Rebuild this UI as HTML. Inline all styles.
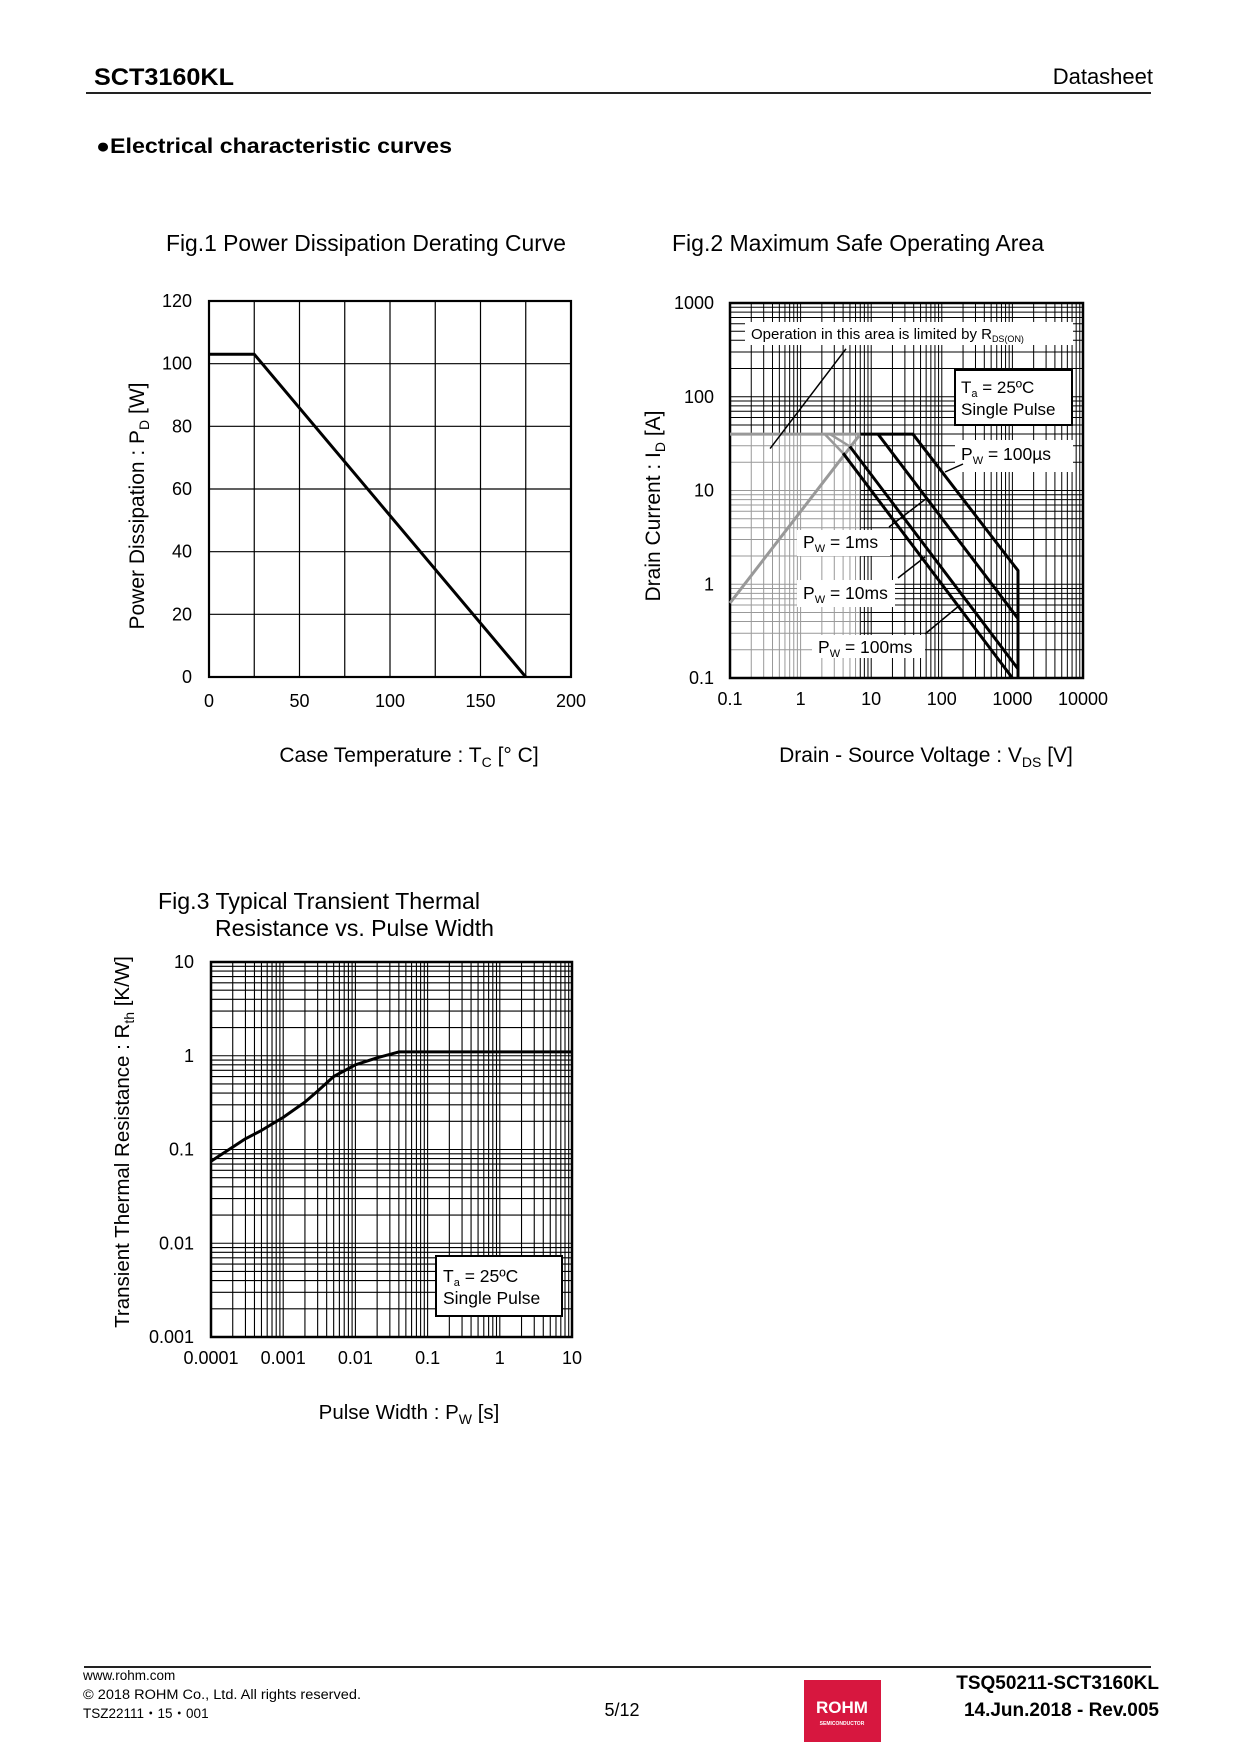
<!DOCTYPE html>
<html><head><meta charset="utf-8"><style>
body{margin:0;background:#fff}
svg{display:block;font-family:"Liberation Sans",Arial,sans-serif}
</style></head><body>
<svg id="pg" width="1240" height="1754" viewBox="0 0 1240 1754" xmlns="http://www.w3.org/2000/svg">
<g>
<text x="94" y="85" font-size="24" font-weight="bold" textLength="140" lengthAdjust="spacingAndGlyphs">SCT3160KL</text>
<text x="1153" y="84" font-size="22" text-anchor="end">Datasheet</text>
<rect x="86" y="92" width="1065" height="2" fill="#222"/>
<text x="96" y="153" font-size="21" font-weight="bold" textLength="356" lengthAdjust="spacingAndGlyphs">●Electrical characteristic curves</text>
</g>
<g id="f1"></g>
<g id="f2"></g>
<g id="f3"></g>
<g>
<rect x="84" y="1666" width="1067" height="2" fill="#222"/>
<text x="83" y="1680" font-size="13.5">www.rohm.com</text>
<text x="83" y="1699" font-size="13.5" textLength="278" lengthAdjust="spacingAndGlyphs">© 2018 ROHM Co., Ltd. All rights reserved.</text>
<text x="83" y="1718" font-size="13.5">TSZ22111・15・001</text>
<text x="622" y="1716" font-size="18" text-anchor="middle">5/12</text>
<rect x="804" y="1680" width="77" height="62" fill="#d7173f"/>
<text x="842" y="1713" font-size="17" font-weight="bold" fill="#fff" text-anchor="middle">ROHM</text>
<text x="842" y="1725" font-size="5" font-weight="bold" fill="#fff" text-anchor="middle">SEMICONDUCTOR</text>
<text x="1159" y="1689" font-size="19" font-weight="bold" text-anchor="end">TSQ50211-SCT3160KL</text>
<text x="1159" y="1716" font-size="19" font-weight="bold" text-anchor="end">14.Jun.2018 - Rev.005</text>
</g>
</svg>
<script>
// Fig1 data
const f1Temp=[0,25,175];
const f1Power=[103,103,0];
const f1XTicks=[0,50,100,150,200];
const f1YTicks=[0,20,40,60,80,100,120];
// Fig2 data
const f2XTicks=["0.1","1","10","100","1000","10000"];
const f2YTicks=["0.1","1","10","100","1000"];
const f2RdsV=[0.1,7];
const f2RdsI=[0.63,40];
const f2RdsThinV=[0.37,4.4];
const f2RdsThinI=[28,325];
const f2LimitV=[0.1,7];
const f2LimitI=[40,40];
const f2Pw100usV=[7,39,1200,1200];
const f2Pw100usI=[40,40,1.4,0.1];
const f2Pw1msV=[12.5,1200,1200];
const f2Pw1msI=[40,0.43,0.1];
const f2Pw10msV=[5,1200,1200];
const f2Pw10msI=[29.5,0.125,0.1];
const f2Pw100msV=[4,1000];
const f2Pw100msI=[25,0.1];
const f2Gray10msV=[2.6,5];
const f2Gray10msI=[40,29.5];
const f2Gray100msV=[2.2,4];
const f2Gray100msI=[40,25];
// Fig3 data
const f3Pw=[0.0001,0.0003,0.0005,0.001,0.002,0.003,0.005,0.01,0.02,0.04,0.1,1,10];
const f3Rth=[0.075,0.13,0.16,0.22,0.32,0.42,0.6,0.8,0.95,1.1,1.1,1.1,1.1];
const f3XTicks=["0.0001","0.001","0.01","0.1","1","10"];
const f3YTicks=["0.001","0.01","0.1","1","10"];

const NS="http://www.w3.org/2000/svg";
function mk(parent,tag,attrs,txt){const e=document.createElementNS(NS,tag);for(const k in attrs)e.setAttribute(k,attrs[k]);if(txt!==undefined)e.textContent=txt;parent.appendChild(e);return e;}
function line(p,x1,y1,x2,y2,w,c){return mk(p,'line',{x1:x1,y1:y1,x2:x2,y2:y2,stroke:c||'#000','stroke-width':w||1});}
function poly(p,xs,ys,sx,sy,w,c){let d='';for(let i=0;i<xs.length;i++)d+=(i?'L':'M')+sx(xs[i]).toFixed(1)+' '+sy(ys[i]).toFixed(1);return mk(p,'path',{d:d,fill:'none',stroke:c||'#000','stroke-width':w,'stroke-linejoin':'round'});}

// ---------- Fig1 ----------
(function(){
const g=document.getElementById('f1');
const L=209,R=571,T=301,B=677;
const sx=v=>L+(v-0)/200*(R-L), sy=v=>B-(v/120)*(B-T);
let t=mk(g,'text',{x:366,y:251,'font-size':23,'text-anchor':'middle',textLength:400,lengthAdjust:'spacingAndGlyphs'},'Fig.1 Power Dissipation Derating Curve');

for(let v=25;v<200;v+=25){const l=line(g,sx(v),T,sx(v),B,1.2);}
for(let v=20;v<120;v+=20){const l=line(g,L,sy(v),R,sy(v),1.2);}
const fr=mk(g,'rect',{x:L,y:T,width:R-L,height:B-T,fill:'none',stroke:'#000','stroke-width':2.2});

f1XTicks.forEach(v=>{const e=mk(g,'text',{x:sx(v),y:707,'font-size':18,'text-anchor':'middle'},String(v));});
f1YTicks.forEach(v=>{const e=mk(g,'text',{x:192,y:sy(v)+6,'font-size':18,'text-anchor':'end'},String(v));});
const c=poly(g,f1Temp,f1Power,sx,sy,3);
t=mk(g,'text',{x:409,y:762,'font-size':21,'text-anchor':'middle'});
t.innerHTML='Case Temperature : T<tspan font-size="14" dy="5">C</tspan><tspan dy="-5"> [°   C]</tspan>';

t=mk(g,'text',{x:0,y:0,'font-size':21,'text-anchor':'middle',transform:'translate(144,506) rotate(-90)'});
t.innerHTML='Power Dissipation  : P<tspan font-size="14" dy="5">D</tspan><tspan dy="-5"> [W]</tspan>';

})();

// ---------- Fig2 ----------
(function(){
const g=document.getElementById('f2');
const L=730,R=1083,T=303,B=678;
const lx=v=>L+(Math.log10(v)+1)/5*(R-L), ly=v=>B-(Math.log10(v)+1)/4*(B-T);
let t=mk(g,'text',{x:672,y:251,'font-size':23,textLength:372,lengthAdjust:'spacingAndGlyphs'},'Fig.2 Maximum Safe Operating Area');

const gx=lx(7), gy=ly(40), gray='#999';
for(let d=-1;d<4;d++)for(let k=1;k<10;k++){const v=k*Math.pow(10,d);if(d===-1&&k===1)continue;const x=lx(v);
 if(v<7){let a=line(g,x,T,x,gy,1);
  a=line(g,x,gy,x,B,1,gray);}
 else{const a=line(g,x,T,x,B,1);}}
for(let d=-1;d<3;d++)for(let k=1;k<10;k++){const v=k*Math.pow(10,d);if(d===-1&&k===1)continue;const y=ly(v);
 if(v<40){let a=line(g,L,y,gx,y,1,gray);
  a=line(g,gx,y,R,y,1);}
 else{const a=line(g,L,y,R,y,1);}}
[[745,322,328,23,'fig2-rds-label-bg'],[955,440,118,32,'fig2-100us-label-bg'],[797,530,93,26,'fig2-1ms-label-bg'],[797,580,98,27,'fig2-10ms-label-bg'],[812,635,113,23,'fig2-100ms-label-bg']].forEach(b=>{const r=mk(g,'rect',{x:b[0],y:b[1],width:b[2],height:b[3],fill:'#fff'});});
let fr=mk(g,'rect',{x:L,y:T,width:R-L,height:B-T,fill:'none',stroke:'#000','stroke-width':2.5});

let p;
p=poly(g,f2LimitV,f2LimitI,lx,ly,3,gray);
p=poly(g,f2RdsV,f2RdsI,lx,ly,3,gray);
p=poly(g,f2Gray10msV,f2Gray10msI,lx,ly,2.5,gray);
p=poly(g,f2Gray100msV,f2Gray100msI,lx,ly,2.5,gray);
p=poly(g,f2RdsThinV,f2RdsThinI,lx,ly,1.5);
p=poly(g,f2Pw100usV,f2Pw100usI,lx,ly,3);
p=poly(g,f2Pw1msV,f2Pw1msI,lx,ly,3);
p=poly(g,f2Pw10msV,f2Pw10msI,lx,ly,3);
p=poly(g,f2Pw100msV,f2Pw100msI,lx,ly,3);
[[945,472,963,464],[889,527,927,498],[898,578,925,557],[925,634,960,605]].forEach(a=>{const l=line(g,a[0],a[1],a[2],a[3],1.5);});
const bx=mk(g,'rect',{x:955,y:370,width:117,height:55,fill:'#fff',stroke:'#000','stroke-width':2});

t=mk(g,'text',{x:961,y:393,'font-size':17});t.innerHTML='T<tspan font-size="11" dy="4">a</tspan><tspan dy="-4"> = 25ºC</tspan>';
t=mk(g,'text',{x:961,y:415,'font-size':17},'Single Pulse');
t=mk(g,'text',{x:751,y:339,'font-size':15});t.innerHTML='Operation in this area is limited by R<tspan font-size="9" dy="3">DS(ON)</tspan>';
[[961,460,'100µs','fig2-label-100us'],[803,548,'1ms','fig2-label-1ms'],[803,599,'10ms','fig2-label-10ms'],[818,653,'100ms','fig2-label-100ms']].forEach(a=>{const e=mk(g,'text',{x:a[0],y:a[1],'font-size':17.5});e.innerHTML='P<tspan font-size="11" dy="4">W</tspan><tspan dy="-4"> = '+a[2]+'</tspan>';});
f2XTicks.forEach(s=>{const e=mk(g,'text',{x:lx(+s),y:705,'font-size':18,'text-anchor':'middle'},s);});
f2YTicks.forEach(s=>{const e=mk(g,'text',{x:714,y:ly(+s)+6,'font-size':18,'text-anchor':'end'},s);});
t=mk(g,'text',{x:926,y:762,'font-size':21,'text-anchor':'middle'});t.innerHTML='Drain - Source Voltage : V<tspan font-size="14" dy="5">DS</tspan><tspan dy="-5"> [V]</tspan>';
t=mk(g,'text',{x:0,y:0,'font-size':21,'text-anchor':'middle',transform:'translate(660,506) rotate(-90)'});t.innerHTML='Drain Current : I<tspan font-size="14" dy="5">D</tspan><tspan dy="-5"> [A]</tspan>';
})();

// ---------- Fig3 ----------
(function(){
const g=document.getElementById('f3');
const L=211,R=572,T=962,B=1337;
const lx=v=>L+(Math.log10(v)+4)/5*(R-L), ly=v=>B-(Math.log10(v)+3)/4*(B-T);
let t=mk(g,'text',{x:158,y:909,'font-size':23,textLength:322,lengthAdjust:'spacingAndGlyphs'},'Fig.3 Typical Transient Thermal');
t=mk(g,'text',{x:215,y:936,'font-size':23,textLength:279,lengthAdjust:'spacingAndGlyphs'},'Resistance vs. Pulse Width');
for(let d=-4;d<1;d++)for(let k=1;k<10;k++){if(d===-4&&k===1)continue;const x=lx(k*Math.pow(10,d));const a=line(g,x,T,x,B,1.1);}
for(let d=-3;d<1;d++)for(let k=1;k<10;k++){if(d===-3&&k===1)continue;const y=ly(k*Math.pow(10,d));const a=line(g,L,y,R,y,1.1);}
const fr=mk(g,'rect',{x:L,y:T,width:R-L,height:B-T,fill:'none',stroke:'#000','stroke-width':2.5});
const c=poly(g,f3Pw,f3Rth,lx,ly,3);
const bx=mk(g,'rect',{x:436,y:1256,width:126,height:60,fill:'#fff',stroke:'#000','stroke-width':2});
t=mk(g,'text',{x:443,y:1282,'font-size':17.5});t.innerHTML='T<tspan font-size="11" dy="4">a</tspan><tspan dy="-4"> = 25ºC</tspan>';
t=mk(g,'text',{x:443,y:1304,'font-size':17.5},'Single Pulse');
f3XTicks.forEach(s=>{const e=mk(g,'text',{x:lx(+s),y:1364,'font-size':18,'text-anchor':'middle'},s);});
f3YTicks.forEach(s=>{const e=mk(g,'text',{x:194,y:ly(+s)+6,'font-size':18,'text-anchor':'end'},s);});
t=mk(g,'text',{x:409,y:1419,'font-size':20.5,'text-anchor':'middle'});t.innerHTML='Pulse Width : P<tspan font-size="14" dy="5">W</tspan><tspan dy="-5"> [s]</tspan>';
t=mk(g,'text',{x:0,y:0,'font-size':20.5,'text-anchor':'middle',transform:'translate(129,1142) rotate(-90)'});t.innerHTML='Transient Thermal Resistance : R<tspan font-size="14" dy="5">th</tspan><tspan dy="-5"> [K/W]</tspan>';
})();
</script>
</body></html>
